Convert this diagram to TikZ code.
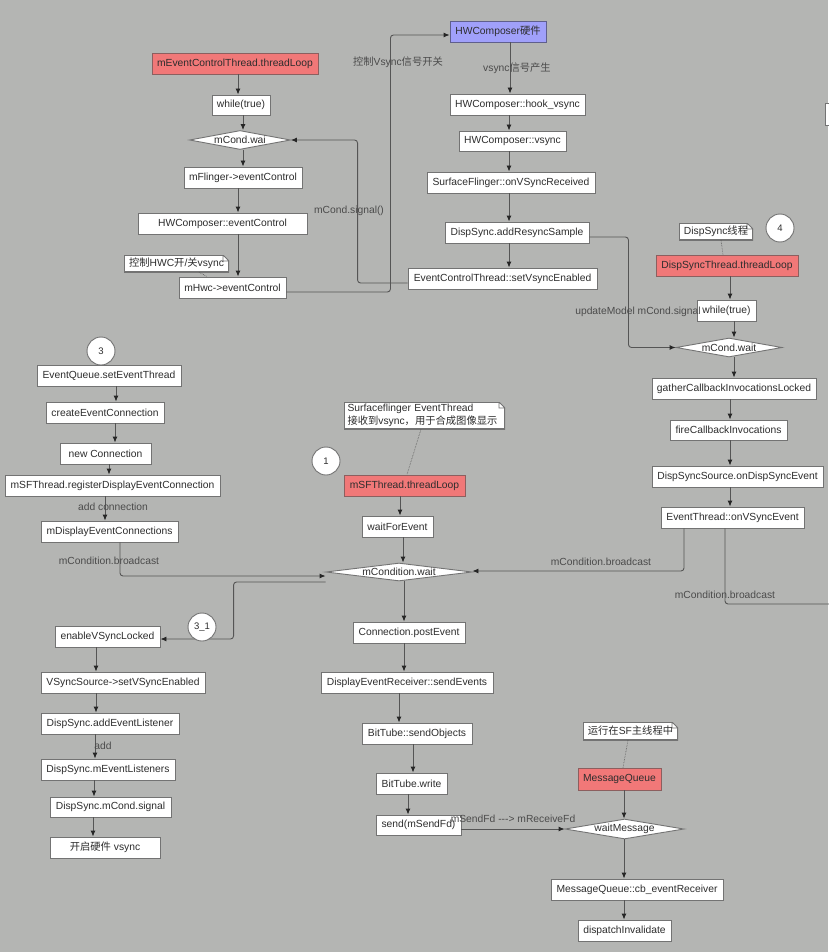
\documentclass[tikz,border=0pt]{standalone}
\usepackage{fontspec}
\setmainfont{Liberation Sans}
\newfontfamily\cjk{Noto Sans CJK SC}
\usetikzlibrary{arrows.meta,shapes.geometric,calc}
\definecolor{bgc}{RGB}{180,181,179}
\definecolor{bordc}{RGB}{115,115,115}
\definecolor{linec}{RGB}{85,85,85}
\definecolor{txtc}{RGB}{45,45,45}
\definecolor{lblc}{RGB}{75,75,75}
\definecolor{redf}{RGB}{241,120,120}
\definecolor{redb}{RGB}{140,95,95}
\definecolor{bluef}{RGB}{160,160,250}
\definecolor{blueb}{RGB}{95,95,140}
\begin{document}
\begin{tikzpicture}[x=1pt,y=-1pt,
  every node/.style={font=\fontsize{10.3}{12.5}\selectfont, text=txtc},
  box/.style={rectangle, draw=bordc, fill=white, line width=0.9pt, inner xsep=4pt, inner ysep=0pt, minimum height=21pt, minimum width=#1pt},
  box/.default=40,
  redbox/.style={box=#1, fill=redf, draw=redb},
  bluebox/.style={box=#1, fill=bluef, draw=blueb},
  dia/.style 2 args={diamond, draw=bordc, fill=white, line width=0.9pt, inner sep=0pt, minimum width=#1pt, minimum height=#2pt},
  circ/.style={circle, draw=bordc, fill=white, line width=0.9pt, minimum size=28pt, inner sep=0pt, font=\fontsize{9.5}{11}\selectfont},
  note/.style={rectangle, fill=white, inner xsep=3.5pt, inner ysep=2pt, minimum height=17pt, minimum width=#1pt,
    path picture={
      \fill[bgc] ([xshift=-6pt]path picture bounding box.north east) -- (path picture bounding box.north east) -- ([yshift=-6pt]path picture bounding box.north east) -- cycle;
      \draw[bordc, line width=1.8pt] ([xshift=-6pt]path picture bounding box.north east) -- (path picture bounding box.north west) -- (path picture bounding box.south west) -- (path picture bounding box.south east) -- ([yshift=-6pt]path picture bounding box.north east);
      \draw[bordc, line width=0.9pt] ([xshift=-6pt]path picture bounding box.north east) -- ([yshift=-6pt]path picture bounding box.north east) -- ([xshift=-6pt,yshift=-6pt]path picture bounding box.north east) -- cycle;
    }},
  ln/.style={draw=linec, line width=0.9pt, rounded corners=3pt},
  arr/.style={ln, -{Latex[length=6pt,width=5pt,color=black!85]}},
  dotln/.style={draw=linec, line width=0.6pt, densely dotted},
  lbl/.style={text=lblc, inner sep=1pt}
]
\useasboundingbox (0,0) rectangle (828,952);
\fill[bgc] (0,0) rectangle (828,952);

% ---- top left column
\node[redbox=166] (ectl) at (235,63.5) {mEventControlThread.threadLoop};
\node[box=58, minimum height=20pt] (wt1) at (241,105) {while(true)};
\node[dia={101}{19}] (mcw1) at (240,140) {\makebox[0pt]{mCond.wai}};
\node[box=118] (mfl) at (243,177.5) {mFlinger->eventControl};
\node[box=169] (hwcec) at (222.5,223.5) {HWComposer::eventControl};
\node[note=105] (note1) at (176.5,263.5) {{\cjk 控制}HWC{\cjk 开}/{\cjk 关}vsync};
\node[box=107] (mhwc) at (232.5,287.5) {mHwc->eventControl};

% ---- top center column
\node[bluebox=96] (hwhw) at (498,31.5) {HWComposer{\cjk 硬件}};
\node[box=135] (hook) at (517.5,104.5) {HWComposer::hook\_vsync};
\node[box=107, minimum height=20pt] (hvs) at (512.5,141) {HWComposer::vsync};
\node[box=168] (sfr) at (511,182.5) {SurfaceFlinger::onVSyncReceived};
\node[box=144] (drs) at (517,232.5) {DispSync.addResyncSample};
\node[box=189] (ect) at (502.5,278.5) {EventControlThread::setVsyncEnabled};

% ---- right column
\node[note=74] (note4) at (716,231.5) {DispSync{\cjk 线程}};
\node[redbox=142] (dst) at (727,265.5) {DispSyncThread.threadLoop};
\node[box=59] (wt2) at (726.5,310.5) {while(true)};
\node[dia={106}{19}] (mcw2) at (729,347.5) {\makebox[0pt]{mCond.wait}};
\node[box=164] (gcl) at (734,388.5) {gatherCallbackInvocationsLocked};
\node[box=117, minimum height=20pt] (fci) at (728.5,430) {fireCallbackInvocations};
\node[box=171] (dsse) at (737.5,476.5) {DispSyncSource.onDispSyncEvent};
\node[box=143] (etv) at (732.5,517.5) {EventThread::onVSyncEvent};
\node[box=20, minimum height=22pt, anchor=west] (rpart) at (825,114) {};

% ---- middle left column
\node[box=144] (eqs) at (109,375.5) {EventQueue.setEventThread};
\node[box=118] (cec) at (105,412.5) {createEventConnection};
\node[box=91] (nco) at (105.5,453.5) {new Connection};
\node[box=215] (reg) at (112.5,485.5) {mSFThread.registerDisplayEventConnection};
\node[box=137] (mdec) at (109.5,531.5) {mDisplayEventConnections};

% ---- middle center column
\node[note=161, text width=154pt, align=left, minimum height=27pt, font=\fontsize{10.3}{13}\selectfont] (note2) at (424.5,415.5) {Surfaceflinger EventThread\\{\cjk 接收到}vsync{\cjk ，用于合成图像显示}};
\node[redbox=121] (sft) at (404.5,485.5) {mSFThread.threadLoop};
\node[box=71] (wfe) at (397.5,526.5) {waitForEvent};
\node[dia={146}{18}] (mcw3) at (399,572) {\makebox[0pt]{mCondition.wait}};
\node[box=112] (cpe) at (409,632.5) {Connection.postEvent};
\node[box=172] (des) at (407,682.5) {DisplayEventReceiver::sendEvents};
\node[box=110] (bso) at (417,733.5) {BitTube::sendObjects};
\node[box=71] (btw) at (411.5,783.5) {BitTube.write};
\node[box=85, minimum height=20pt] (snd) at (418.5,825) {send(mSendFd)};

% ---- bottom left column
\node[box=105] (evl) at (107.5,636.5) {enableVSyncLocked};
\node[box=164] (vss) at (123,682.5) {VSyncSource->setVSyncEnabled};
\node[box=138] (ael) at (110,723.5) {DispSync.addEventListener};
\node[box=134] (mel) at (108,769.5) {DispSync.mEventListeners};
\node[box=121, minimum height=20pt] (msig) at (110.5,807) {DispSync.mCond.signal};
\node[box=110] (kq) at (105,847.5) {{\cjk 开启硬件} vsync};

% ---- bottom right column
\node[note=95, minimum height=18pt] (note3) at (630.5,731) {{\cjk 运行在}SF{\cjk 主线程中}};
\node[redbox=83, minimum height=22pt] (mq) at (619.5,779) {MessageQueue};
\node[dia={119}{20}] (wm) at (624.5,829) {\makebox[0pt]{waitMessage}};
\node[box=172] (cb) at (637,889.5) {MessageQueue::cb\_eventReceiver};
\node[box=93] (di) at (624.5,930.5) {dispatchInvalidate};

% ---- connectors: top left
\draw[arr] (ectl.south -| 238,0) -- (wt1.north -| 238,0);
\draw[arr] (wt1.south -| 243,0) -- (mcw1.north -| 243,0);
\draw[arr] (mcw1.south -| 243,0) -- (mfl.north -| 243,0);
\draw[arr] (mfl.south -| 238,0) -- (hwcec.north -| 238,0);
\draw[arr] (hwcec.south -| 238,0) -- (mhwc.north -| 238,0);
\draw[dotln] (note1.south -| 199,0) -- (mhwc.north -| 207,0);
\draw[arr] ([yshift=-4.5pt]mhwc.east) -- ++(104,0) |- ([yshift=-3.5pt]hwhw.west);

% ---- top center
\draw[arr] (hwhw.south -| 510,0) -- (hook.north -| 510,0);
\draw[arr] (hook.south -| 509,0) -- (hvs.north -| 509,0);
\draw[arr] (hvs.south -| 509,0) -- (sfr.north -| 509,0);
\draw[arr] (sfr.south -| 509,0) -- (drs.north -| 509,0);
\draw[arr] (drs.south -| 509,0) -- (ect.north -| 509,0);
\draw[arr] ([yshift=-4.5pt]ect.west) -- ++(-50,0) |- (mcw1.east);
\draw[arr] ([yshift=-4.5pt]drs.east) -- ++(39,0) |- (mcw2.west);

% ---- right column
\draw[dotln] (note4.south -| 721,0) -- (dst.north -| 723,0);
\draw[arr] (dst.south -| 730,0) -- (wt2.north -| 730,0);
\draw[arr] (wt2.south -| 734,0) -- (mcw2.north -| 734,0);
\draw[arr] (mcw2.south -| 734,0) -- (gcl.north -| 734,0);
\draw[arr] (gcl.south -| 730,0) -- (fci.north -| 730,0);
\draw[arr] (fci.south -| 730,0) -- (dsse.north -| 730,0);
\draw[arr] (dsse.south -| 730,0) -- (etv.north -| 730,0);
\draw[arr] (etv.south -| 684,0) |- ([yshift=1pt]mcw3.east);
\coordinate (offr) at (840,604);
\draw[ln] (etv.south -| 725,0) |- (offr);

% ---- middle left
\draw[arr] (eqs.south -| 116,0) -- (cec.north -| 116,0);
\draw[arr] (cec.south -| 115,0) -- (nco.north -| 115,0);
\draw[arr] (nco.south -| 109,0) -- (reg.north -| 109,0);
\draw[arr] (reg.south -| 105,0) -- (mdec.north -| 105,0);
\draw[arr] (mdec.south -| 120,0) |- ([yshift=-4pt]mcw3.west);

% ---- middle center
\draw[dotln] (note2.south -| 421,0) -- (sft.north -| 407,0);
\draw[arr] (sft.south -| 400,0) -- (wfe.north -| 400,0);
\draw[arr] (wfe.south -| 403,0) -- (mcw3.north -| 403,0);
\draw[arr] ([yshift=-10pt]mcw3.west) -- ++(-92,0) |- ([yshift=-2.5pt]evl.east);
\draw[arr] (mcw3.south -| 404,0) -- (cpe.north -| 404,0);
\draw[arr] (cpe.south -| 404,0) -- (des.north -| 404,0);
\draw[arr] (des.south -| 399,0) -- (bso.north -| 399,0);
\draw[arr] (bso.south -| 413,0) -- (btw.north -| 413,0);
\draw[arr] (btw.south -| 408,0) -- (snd.north -| 408,0);
\draw[arr] (snd.east |- wm.west) -- (wm.west);

% ---- bottom left
\draw[arr] (evl.south -| 96,0) -- (vss.north -| 96,0);
\draw[arr] (vss.south -| 96,0) -- (ael.north -| 96,0);
\draw[arr] (ael.south -| 95,0) -- (mel.north -| 95,0);
\draw[arr] (mel.south -| 94,0) -- (msig.north -| 94,0);
\draw[arr] (msig.south -| 93,0) -- (kq.north -| 93,0);

% ---- bottom right
\draw[dotln] (note3.south -| 628,0) -- (mq.north -| 623,0);
\draw[arr] (mq.south -| 624,0) -- (wm.north -| 624,0);
\draw[arr] (wm.south -| 624,0) -- (cb.north -| 624,0);
\draw[arr] (cb.south -| 624,0) -- (di.north -| 624,0);

% ---- circles
\node[circ] (c4) at (780,228) {4};
\node[circ] (c3) at (101,351) {3};
\node[circ] (c1) at (326,461) {1};
\node[circ] (c31) at (202,627) {3\_1};

% ---- labels
\node[lbl] (l1) at (398,62) {{\cjk 控制}Vsync{\cjk 信号开关}};
\node[lbl] (l2) at (517,68) {vsync{\cjk 信号产生}};
\node[lbl] (l3) at (349,211) {mCond.signal()};
\node[lbl] (l4) at (638,312) {updateModel mCond.signal};
\node[lbl] (l5) at (113,507) {add connection};
\node[lbl] (l6) at (109,561) {mCondition.broadcast};
\node[lbl] (l7) at (601,562) {mCondition.broadcast};
\node[lbl] (l8) at (725,595) {mCondition.broadcast};
\node[lbl] (l9) at (103,746) {add};
\node[lbl] (l10) at (513,819) {mSendFd -\kern0pt-\kern0pt-> mReceiveFd};
\end{tikzpicture}
\end{document}
